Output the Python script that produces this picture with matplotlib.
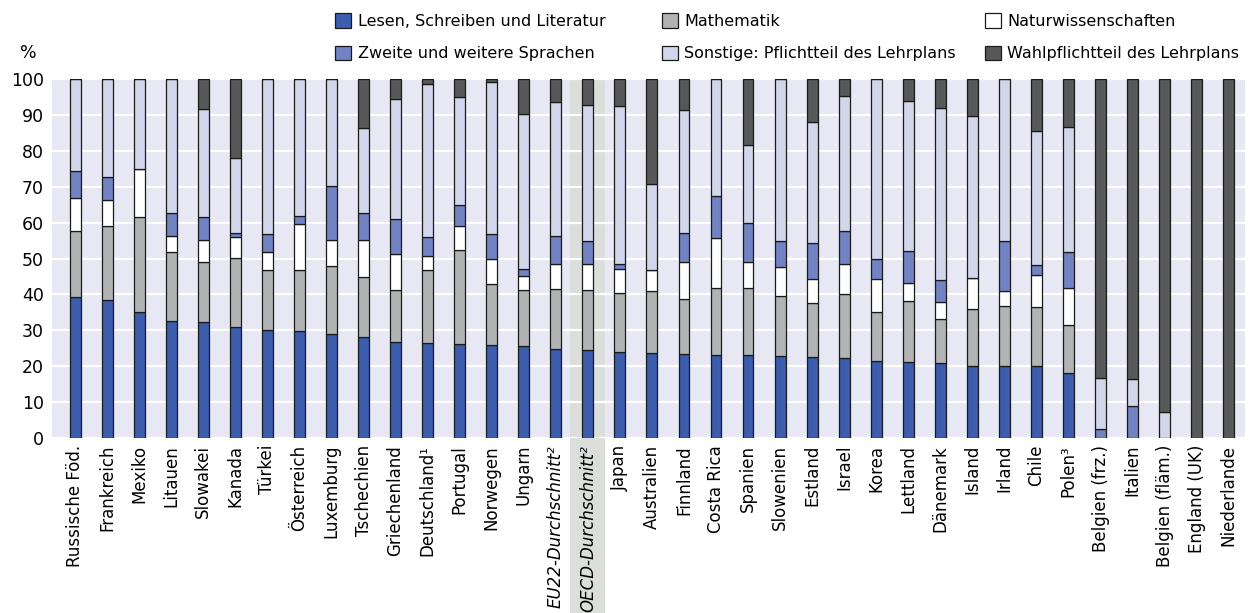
import numpy as np
import matplotlib.pyplot as plt
from matplotlib.patches import Rectangle
from matplotlib import transforms

laender = ["Russische Föd.", "Frankreich", "Mexiko", "Litauen", "Slowakei", "Kanada",
           "Türkei", "Österreich", "Luxemburg", "Tschechien", "Griechenland", "Deutschland¹",
           "Portugal", "Norwegen", "Ungarn", "EU22-Durchschnitt²", "OECD-Durchschnitt²",
           "Japan", "Australien", "Finnland", "Costa Rica", "Spanien", "Slowenien", "Estland",
           "Israel", "Korea", "Lettland", "Dänemark", "Island", "Irland", "Chile", "Polen³",
           "Belgien (frz.)", "Italien", "Belgien (fläm.)", "England (UK)", "Niederlande"]

# Anteile in %
lesen = [39.3, 38.4, 35.1, 32.7, 32.3, 31.0, 30.1, 29.8, 28.9, 28.0, 26.7, 26.5,
         26.2, 26.0, 25.5, 24.7, 24.4, 24.0, 23.6, 23.4, 23.2, 23.1, 22.8, 22.6,
         22.3, 21.4, 21.2, 20.9, 20.1, 20.1, 20.1, 18.0, 0, 0, 0, 0, 0]
mathe = [18.5, 20.7, 26.6, 19.2, 16.7, 19.2, 16.7, 17.1, 19.0, 16.9, 14.5, 20.2,
         26.2, 16.9, 15.7, 16.7, 16.8, 16.5, 17.4, 15.3, 18.7, 18.6, 16.9, 15.1,
         17.9, 13.7, 16.9, 12.2, 15.9, 16.7, 16.3, 13.5, 0, 0, 0, 0, 0]
natur = [9.2, 7.2, 13.3, 4.4, 6.2, 5.9, 4.9, 12.7, 7.2, 10.3, 10.0, 3.9,
         6.7, 6.9, 3.9, 7.0, 7.3, 6.7, 5.7, 10.3, 13.9, 7.4, 7.9, 6.7,
         8.4, 9.2, 5.0, 4.9, 8.5, 4.1, 9.1, 10.2, 0, 0, 0, 0, 0]
sprachen = [7.4, 6.3, 0, 6.4, 6.3, 0.9, 5.1, 2.2, 15.2, 7.5, 9.9, 5.4,
            5.9, 7.0, 2.0, 7.8, 6.5, 1.2, 0, 8.0, 11.7, 10.9, 7.2, 10.0,
            9.1, 5.7, 9.1, 6.1, 0, 13.9, 2.7, 10.2, 2.5, 8.9, 0, 0, 0]
sonstige = [25.6, 27.4, 25.0, 37.3, 30.1, 21.1, 43.2, 38.2, 29.7, 23.7, 33.3, 42.6,
            30.0, 42.4, 43.2, 37.5, 37.9, 44.1, 24.2, 34.3, 32.5, 21.6, 45.2, 33.7,
            37.6, 50.0, 41.7, 47.8, 45.3, 45.2, 37.4, 34.8, 14.2, 7.5, 7.3, 0, 0]
wahl = [0, 0, 0, 0, 8.4, 21.9, 0, 0, 0, 13.6, 5.6, 1.4,
        5.0, 0.8, 9.7, 6.3, 7.1, 7.5, 29.1, 8.7, 0, 18.4, 0, 11.9,
        4.7, 0, 6.1, 8.1, 10.2, 0, 14.4, 13.3, 83.3, 83.6, 92.7, 100, 100]

serien = [
    ("Lesen, Schreiben und Literatur", lesen, "#3a5dae"),
    ("Mathematik", mathe, "#b2b3b5"),
    ("Naturwissenschaften", natur, "#ffffff"),
    ("Zweite und weitere Sprachen", sprachen, "#7282c2"),
    ("Sonstige: Pflichtteil des Lehrplans", sonstige, "#d3d6eb"),
    ("Wahlpflichtteil des Lehrplans", wahl, "#58585a"),
]

fig = plt.figure(figsize=(12.51, 6.13), dpi=100)
ax = fig.add_axes([0.0416, 0.2855, 0.9534, 0.5855])
ax.set_facecolor("#e8e8f4")

x = np.arange(len(laender))
unten = np.zeros(len(laender))
handles = {}
for name, werte, farbe in serien:
    werte = np.array(werte)
    b = ax.bar(x, werte, bottom=unten, width=0.34, color=farbe, edgecolor="#1a1a1a",
               linewidth=0.9, zorder=3, label=name)
    handles[name] = b
    unten += werte

# OECD-Markierung (reicht bis unter die Achse)
oecd = laender.index("OECD-Durchschnitt²")
trans = transforms.blended_transform_factory(ax.transData, ax.transAxes)
ax.add_patch(Rectangle((oecd - 0.55, -0.49), 1.1, 1.49, transform=trans,
                       facecolor="#dcdedc", edgecolor="none", zorder=1, clip_on=False))

ax.set_xlim(-0.72, len(laender) - 0.5)
ax.set_ylim(0, 100)
ax.set_yticks(range(0, 101, 10))
ax.yaxis.grid(True, color="white", linewidth=1.6, zorder=2)
ax.set_axisbelow(False)
for s in ax.spines.values():
    s.set_visible(False)
ax.tick_params(axis="y", length=0, labelsize=12.5, pad=6)
ax.tick_params(axis="x", length=0, pad=5)
ax.set_xticks(x)
ax.set_xticklabels(laender, rotation=90, fontsize=12)
for lbl in ax.get_xticklabels():
    if "Durchschnitt" in lbl.get_text():
        lbl.set_style("italic")

fig.text(0.016, 0.905, "%", fontsize=12.5)

# Legende: drei Spalten mit festen Positionen
spalten = [
    (0.268, ["Lesen, Schreiben und Literatur", "Zweite und weitere Sprachen"]),
    (0.529, ["Mathematik", "Sonstige: Pflichtteil des Lehrplans"]),
    (0.787, ["Naturwissenschaften", "Wahlpflichtteil des Lehrplans"]),
]
for xpos, namen in spalten:
    fig.legend([handles[n] for n in namen], namen, loc="upper left",
               bbox_to_anchor=(xpos, 0.978), frameon=False, borderpad=0,
               borderaxespad=0, handlelength=1.0, handleheight=1.0,
               handletextpad=0.4, labelspacing=1.05, fontsize=11.5)

fig.savefig("out.png", dpi=100)
